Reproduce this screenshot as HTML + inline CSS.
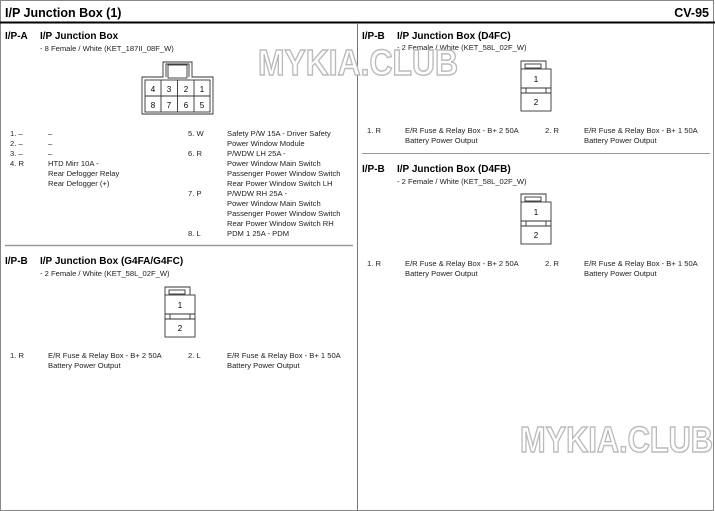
<!DOCTYPE html><html><head><style>body{margin:0;background:#fff}svg{display:block}text{font-family:"Liberation Sans",sans-serif}</style></head><body>
<svg width="715" height="511" viewBox="0 0 715 511" xmlns="http://www.w3.org/2000/svg">
<rect x="0.5" y="0.5" width="713" height="510" fill="#fff" stroke="#888"/>
<text x="5" y="17" font-size="12.5" font-weight="bold">I/P Junction Box (1)</text>
<text x="709" y="17" font-size="12.5" font-weight="bold" text-anchor="end">CV-95</text>
<rect x="0" y="21.5" width="715" height="2" fill="#000"/>
<line x1="357.5" y1="23" x2="357.5" y2="511" stroke="#777"/>
<line x1="5" y1="245.5" x2="353" y2="245.5" stroke="#999" stroke-width="1.5"/>
<line x1="362" y1="153.5" x2="710" y2="153.5" stroke="#999"/>
<g font-size="10" font-weight="bold">
<text x="5" y="39">I/P-A</text><text x="40" y="39">I/P Junction Box</text>
<text x="5" y="264">I/P-B</text><text x="40" y="264">I/P Junction Box (G4FA/G4FC)</text>
<text x="362" y="39">I/P-B</text><text x="397" y="39">I/P Junction Box (D4FC)</text>
<text x="362" y="172">I/P-B</text><text x="397" y="172">I/P Junction Box (D4FB)</text>
</g>
<g font-size="7.6" fill="#222">
<text x="40" y="51">- 8 Female / White (KET_187II_08F_W)</text>
<text x="40" y="276">- 2 Female / White (KET_58L_02F_W)</text>
<text x="397" y="50">- 2 Female / White (KET_58L_02F_W)</text>
<text x="397" y="184">- 2 Female / White (KET_58L_02F_W)</text>
<text x="10" y="136">1. –</text><text x="48" y="136">–</text>
<text x="10" y="146">2. –</text><text x="48" y="146">–</text>
<text x="10" y="156">3. –</text><text x="48" y="156">–</text>
<text x="10" y="166">4. R</text><text x="48" y="166">HTD Mirr 10A -</text>
<text x="48" y="176">Rear Defogger Relay</text><text x="48" y="186">Rear Defogger (+)</text>
<text x="188" y="136">5. W</text><text x="227" y="136">Safety P/W 15A - Driver Safety</text>
<text x="227" y="146">Power Window Module</text>
<text x="188" y="156">6. R</text><text x="227" y="156">P/WDW LH 25A -</text>
<text x="227" y="166">Power Window Main Switch</text>
<text x="227" y="176">Passenger Power Window Switch</text>
<text x="227" y="186">Rear Power Window Switch LH</text>
<text x="188" y="196">7. P</text><text x="227" y="196">P/WDW RH 25A -</text>
<text x="227" y="206">Power Window Main Switch</text>
<text x="227" y="216">Passenger Power Window Switch</text>
<text x="227" y="226">Rear Power Window Switch RH</text>
<text x="188" y="236">8. L</text><text x="227" y="236">PDM 1 25A - PDM</text>
<text x="10" y="358">1. R</text><text x="48" y="358">E/R Fuse &amp; Relay Box - B+ 2 50A</text><text x="48" y="368">Battery Power Output</text>
<text x="188" y="358">2. L</text><text x="227" y="358">E/R Fuse &amp; Relay Box - B+ 1 50A</text><text x="227" y="368">Battery Power Output</text>
<text x="367" y="133">1. R</text><text x="405" y="133">E/R Fuse &amp; Relay Box - B+ 2 50A</text><text x="405" y="143">Battery Power Output</text>
<text x="545" y="133">2. R</text><text x="584" y="133">E/R Fuse &amp; Relay Box - B+ 1 50A</text><text x="584" y="143">Battery Power Output</text>
<text x="367" y="266">1. R</text><text x="405" y="266">E/R Fuse &amp; Relay Box - B+ 2 50A</text><text x="405" y="276">Battery Power Output</text>
<text x="545" y="266">2. R</text><text x="584" y="266">E/R Fuse &amp; Relay Box - B+ 1 50A</text><text x="584" y="276">Battery Power Output</text>
</g>
<g fill="none" stroke="#333" stroke-width="0.9">
<path d="M142 114 V77 H163 V62 H192 V77 H213 V114 Z"/>
<path d="M166 77 V64 H189 V77"/>
<rect x="168" y="65" width="19" height="13"/>
<rect x="145" y="80" width="65" height="32"/>
<line x1="145" y1="96" x2="210" y2="96"/>
<line x1="161" y1="80" x2="161" y2="112"/><line x1="177.5" y1="80" x2="177.5" y2="112"/><line x1="194" y1="80" x2="194" y2="112"/>
</g>
<g font-size="8" text-anchor="middle">
<text x="153" y="92">4</text><text x="169" y="92">3</text><text x="186" y="92">2</text><text x="202" y="92">1</text>
<text x="153" y="108">8</text><text x="169" y="108">7</text><text x="186" y="108">6</text><text x="202" y="108">5</text>
</g>
<g id="c2" fill="none" stroke="#333" stroke-width="0.9">
<path d="M521 69 V61 H546 V69"/><rect x="525" y="64" width="16" height="4"/>
<rect x="521" y="69" width="30" height="42"/>
<line x1="521" y1="88" x2="551" y2="88"/><line x1="521" y1="93" x2="551" y2="93"/>
<line x1="526" y1="88" x2="526" y2="93"/><line x1="546" y1="88" x2="546" y2="93"/>
</g>
<use href="#c2" transform="translate(0,133)"/>
<use href="#c2" transform="translate(-356,226)"/>
<g font-size="8" text-anchor="middle">
<text x="536" y="82">1</text><text x="536" y="105">2</text>
<text x="536" y="215">1</text><text x="536" y="238">2</text>
<text x="180" y="308">1</text><text x="180" y="331">2</text>
</g>
<g font-size="36" font-weight="bold" fill="#fff" stroke="#bbb" stroke-width="1.5">
<text x="258" y="75" textLength="200" lengthAdjust="spacingAndGlyphs">MYKIA.CLUB</text>
<text x="520" y="452" textLength="193" lengthAdjust="spacingAndGlyphs">MYKIA.CLUB</text>
</g>
</svg>
</body></html>
